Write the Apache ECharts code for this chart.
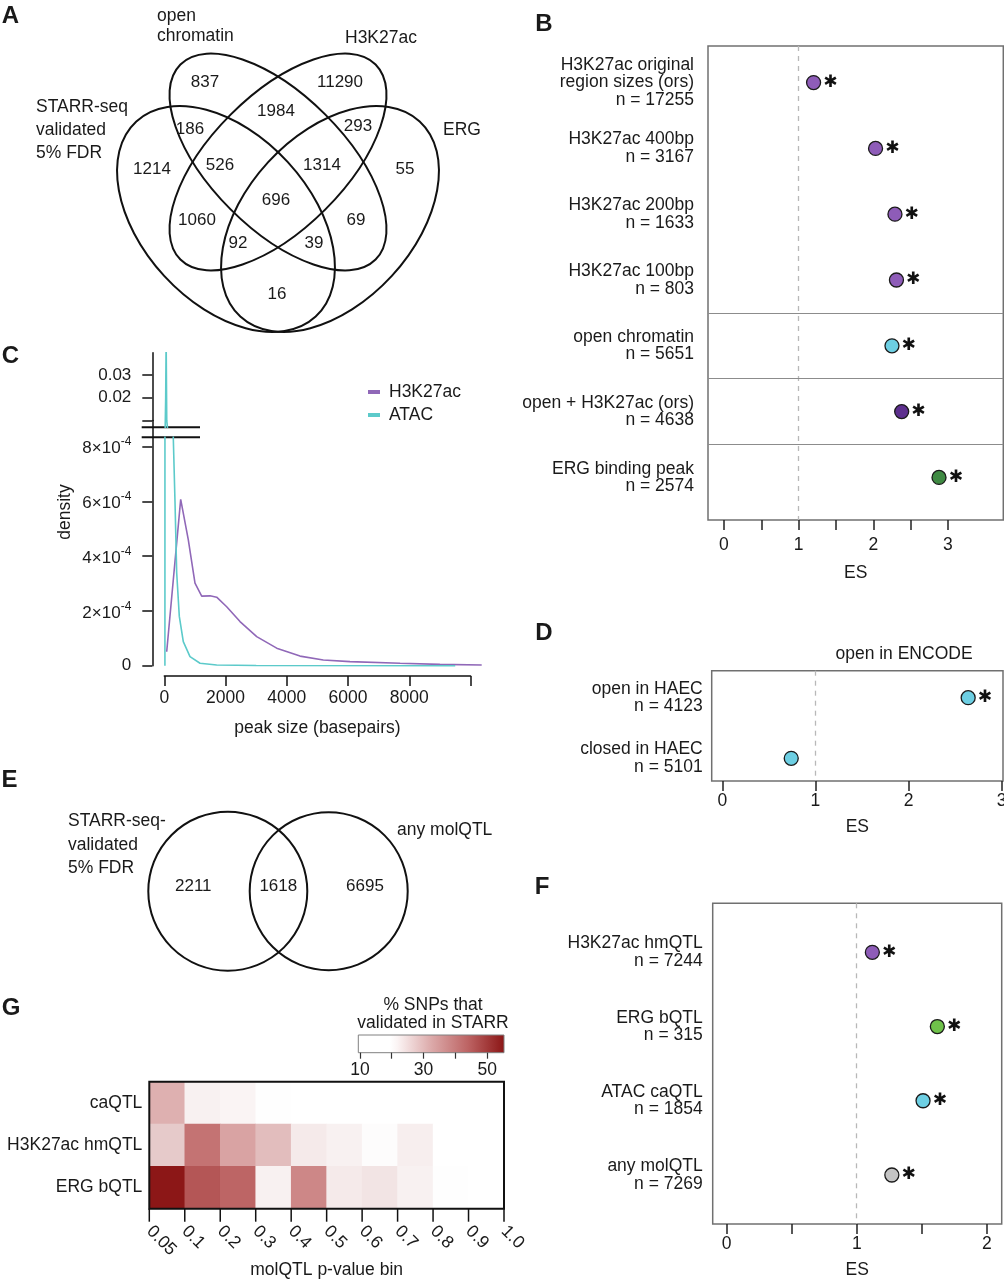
<!DOCTYPE html>
<html>
<head>
<meta charset="utf-8">
<script src="https://cdn.jsdelivr.net/npm/echarts@6/dist/echarts.min.js"></script>
<style>
  body { margin: 0; background: #fff; }
  #main { width: 1004px; height: 1280px; }
</style>
</head>
<body>
<div id="main"></div>
<script>
// ---- data ----
// A: four-set venn
var vennSets = ['STARR-seq\nvalidated\n5% FDR', 'open\nchromatin', 'H3K27ac', 'ERG'];
var vennCounts = [837, 11290, 186, 1984, 293, 1214, 526, 1314, 55, 696, 1060, 69, 92, 39, 16];

// B: enrichment of STARR-validated regions
var bLabels = ['H3K27ac original\nregion sizes (ors)\nn = 17255', 'H3K27ac 400bp\nn = 3167',
  'H3K27ac 200bp\nn = 1633', 'H3K27ac 100bp\nn = 803', 'open chromatin\nn = 5651',
  'open + H3K27ac (ors)\nn = 4638', 'ERG binding peak\nn = 2574'];
var bES = [1.20, 2.03, 2.29, 2.31, 2.25, 2.38, 2.88];
var bSig = [true, true, true, true, true, true, true];

// C: peak size density (bp, density)
var h3k27acDensity = [[78, 5.1e-5], [535, 6.07e-4], [784, 4.59e-4], [1002, 3.01e-4], [1221, 2.54e-4],
  [1492, 2.55e-4], [1710, 2.5e-4], [2037, 2.15e-4], [2472, 1.61e-4], [3017, 1.06e-4], [3670, 6.4e-5],
  [4431, 3.5e-5], [5192, 2.1e-5], [6064, 1.5e-5], [7700, 9e-6], [9000, 5e-6], [10364, 2.6e-6]];
var atacDensity = [[20, 0], [45, 0.02], [60, 0.045], [80, 0.01], [130, 0.003], [200, 0.0015],
  [294, 8.3e-4], [349, 6.0e-4], [404, 3.4e-4], [490, 1.8e-4], [620, 8.8e-5], [839, 3.3e-5],
  [1166, 9e-6], [1710, 2.6e-6], [3000, 5e-7], [9500, 0]];

// D: open in ENCODE
var dLabels = ['open in HAEC\nn = 4123', 'closed in HAEC\nn = 5101'];
var dES = [2.64, 0.74];
var dSig = [true, false];

// E: two-set venn
var eSets = ['STARR-seq-\nvalidated\n5% FDR', 'any molQTL'];
var eCounts = [2211, 1618, 6695];

// F: molQTL enrichment
var fLabels = ['H3K27ac hmQTL\nn = 7244', 'ERG bQTL\nn = 315', 'ATAC caQTL\nn = 1854', 'any molQTL\nn = 7269'];
var fES = [1.12, 1.62, 1.51, 1.27];
var fSig = [true, true, true, true];

// G: % SNPs validated in STARR per p-value bin
var gRows = ['caQTL', 'H3K27ac hmQTL', 'ERG bQTL'];
var gBins = ['0.05', '0.1', '0.2', '0.3', '0.4', '0.5', '0.6', '0.7', '0.8', '0.9', '1.0'];
var gCaQTL = [34, 23, 22, 16, 15, 15, 14, 14, 13, 13];
var gHmQTL = [30, 43, 36, 32, 25, 23, 19, 24, 15, 14];
var gBQTL = [55, 47, 45, 23, 40, 25, 26, 23, 16, 15];

// ---- styling / layout ----
var FONT = 'Liberation Sans, Arial, Helvetica, sans-serif';
var TXT = '#1a1a1a';
var PURPLE = '#8e5cb8', CYAN = '#6dcfe3', DPURPLE = '#5d2f8e', DGREEN = '#3f8a43',
    LGREEN = '#6fc24a', GREY = '#c4c4c4';
var bColors = [PURPLE, PURPLE, PURPLE, PURPLE, CYAN, DPURPLE, DGREEN];
var dColors = [CYAN, CYAN];
var fColors = [PURPLE, LGREEN, CYAN, GREY];
var heatColors = ['#ffffff', '#ffffff', '#fbf4f4', '#dcaaaa', '#bd6464', '#8b1515'];
var heatStops = [0, 0.22, 0.27, 0.5, 0.75, 1];
var heatMin = 9.5, heatMax = 55.3;

var grid = [], xAxis = [], yAxis = [], series = [], graphic = [];

function txt(t, x, y, opt) {
  opt = opt || {};
  graphic.push({type: 'text', x: x, y: y, rotation: opt.rot || 0, silent: true,
    style: {text: t, fill: TXT, fontFamily: FONT, fontSize: opt.size || 17.5,
      fontWeight: opt.weight || 'normal', align: opt.align || 'center',
      verticalAlign: 'middle', lineHeight: opt.lh || 20}});
}

function addForest(o) {
  var gi = grid.length;
  grid.push({left: o.box[0], top: o.box[1], width: o.box[2], height: o.box[3], show: true,
    borderColor: '#707070', borderWidth: 1.5, containLabel: false, outerBoundsMode: 'none'});
  xAxis.push({gridIndex: gi, type: 'value', position: 'bottom', min: o.xMin, max: o.xMax,
    splitLine: {show: false}, axisLine: {show: false, onZero: false},
    axisTick: {show: true, inside: false, length: 10, customValues: o.ticks, lineStyle: {color: '#222', width: 1.5}},
    axisLabel: {customValues: o.tickLabels, margin: o.tickGap, fontSize: 17.5, fontFamily: FONT, color: TXT},
    name: 'ES', nameLocation: 'middle', nameGap: o.nameGap, nameMoveOverlap: false,
    nameTextStyle: {fontSize: 17.5, fontFamily: FONT, color: TXT}});
  yAxis.push({gridIndex: gi, type: 'value', position: 'left', inverse: true, min: o.yMin, max: o.yMax,
    splitLine: {show: false}, axisLine: {show: false, onZero: false}, axisTick: {show: false},
    axisLabel: {customValues: o.labels.map(function (_, i) { return i; }),
      formatter: function (v) { return o.labels[Math.round(v)]; },
      margin: o.labelGap, fontSize: 17.5, lineHeight: 17.5, fontFamily: FONT, color: TXT, align: 'right'}});
  var lines = [{xAxis: 1, lineStyle: {type: [5, 5], color: '#b8b8b8', width: 1.3}}];
  (o.separators || []).forEach(function (s) {
    lines.push({yAxis: s, lineStyle: {type: 'solid', color: '#8c8c8c', width: 1.2}});
  });
  series.push({type: 'scatter', xAxisIndex: gi, yAxisIndex: gi, symbolSize: 14, z: 5,
    itemStyle: {borderColor: '#1a1a1a', borderWidth: 1.3, opacity: 1},
    label: {show: false, position: 'right', distance: 2, formatter: '\u2731', fontSize: 17,
      fontFamily: 'DejaVu Sans', color: '#111'},
    data: o.es.map(function (v, i) {
      return {value: [v, i], itemStyle: {color: o.colors[i]}, label: {show: o.sig[i]}};
    }),
    markLine: {silent: true, symbol: 'none', animation: false, label: {show: false}, data: lines}});
}

// B
addForest({box: [708, 46, 295.3, 474], xMin: -0.214, xMax: 3.741,
  ticks: [0, 0.5, 1, 1.5, 2, 2.5, 3], tickLabels: [0, 1, 2, 3], tickGap: 16, nameGap: 44,
  yMin: -0.556, yMax: 6.647, labels: bLabels, es: bES, sig: bSig, colors: bColors,
  separators: [3.5, 4.5, 5.5], labelGap: 14});
// D
addForest({box: [711.7, 670.7, 291.3, 110.3], xMin: -0.114, xMax: 3.014,
  ticks: [0, 1, 2, 3], tickLabels: [0, 1, 2, 3], tickGap: 11, nameGap: 37,
  yMin: -0.446, yMax: 1.375, labels: dLabels, es: dES, sig: dSig, colors: dColors, labelGap: 9});
// F
addForest({box: [712.7, 903.3, 289, 320.7], xMin: -0.108, xMax: 2.115,
  ticks: [0, 0.5, 1, 1.5, 2], tickLabels: [0, 1, 2], tickGap: 11, nameGap: 37,
  yMin: -0.66, yMax: 3.66, labels: fLabels, es: fES, sig: fSig, colors: fColors, labelGap: 10});

// C: broken density axis
var axisLineStyle = {color: '#111', width: 1.5};
function hiddenAxis(gi, min, max) { return {gridIndex: gi, type: 'value', show: false, min: min, max: max}; }
// lower data grid (3)
grid.push({left: 152.3, top: 437.3, width: 330.5, height: 238.7, outerBoundsMode: 'none'});
xAxis.push(hiddenAxis(3, -392, 10400));
yAxis.push(hiddenAxis(3, -3.759e-5, 8.336e-4));
// upper data grid (4)
grid.push({left: 152.3, top: 352.7, width: 330.5, height: 74.6, outerBoundsMode: 'none'});
xAxis.push(hiddenAxis(4, -392, 10400));
yAxis.push(hiddenAxis(4, 0.00696, 0.03982));
// x axis grid (5)
grid.push({left: 164.3, top: 640, width: 306.25, height: 36, outerBoundsMode: 'none'});
xAxis.push({gridIndex: 5, type: 'value', min: 0, max: 10000, splitLine: {show: false},
  axisLine: {show: true, onZero: false, lineStyle: axisLineStyle},
  axisTick: {length: 10, customValues: [0, 2000, 4000, 6000, 8000, 10000], lineStyle: axisLineStyle},
  axisLabel: {customValues: [0, 2000, 4000, 6000, 8000], margin: 13, fontSize: 17.5, fontFamily: FONT, color: TXT,
    formatter: function (v) { return String(v); }},
  name: 'peak size (basepairs)', nameLocation: 'middle', nameGap: 43, nameMoveOverlap: false,
  nameTextStyle: {fontSize: 17.5, fontFamily: FONT, color: TXT}});
yAxis.push(hiddenAxis(5, 0, 1));
// lower y axis (6)
var sciRich = {a: {fontSize: 17, fontFamily: FONT, color: TXT, verticalAlign: 'bottom'},
  s: {fontSize: 12, fontFamily: FONT, color: TXT, verticalAlign: 'bottom', padding: [0, 0, 9, 0]}};
grid.push({left: 152.3, top: 420.4, width: 10, height: 245.3, outerBoundsMode: 'none'});
xAxis.push(hiddenAxis(6, 0, 1));
yAxis.push({gridIndex: 6, type: 'value', min: 0, max: 8.953e-4, splitLine: {show: false},
  axisLine: {show: true, onZero: false, lineStyle: axisLineStyle},
  axisTick: {length: 10, customValues: [0, 2e-4, 4e-4, 6e-4, 8e-4], lineStyle: axisLineStyle},
  axisLabel: {customValues: [0, 2e-4, 4e-4, 6e-4, 8e-4], margin: 21, rich: sciRich,
    formatter: function (v) { return v === 0 ? '{a|0}' : '{a|' + Math.round(v * 1e4) + '\u00d710}{s|-4}'; }}});
// upper y axis (7)
grid.push({left: 152.3, top: 352.7, width: 10, height: 67.7, outerBoundsMode: 'none'});
xAxis.push(hiddenAxis(7, 0, 1));
yAxis.push({gridIndex: 7, type: 'value', min: 0.01, max: 0.03982, splitLine: {show: false},
  axisLine: {show: true, onZero: false, lineStyle: axisLineStyle},
  axisTick: {length: 10, customValues: [0.01, 0.02, 0.03], lineStyle: axisLineStyle},
  axisLabel: {customValues: [0.02, 0.03], margin: 21, fontSize: 17, fontFamily: FONT, color: TXT,
    formatter: function (v) { return v.toFixed(2); }}});

function densityLine(name, data, color, gi) {
  series.push({type: 'line', name: name, xAxisIndex: gi, yAxisIndex: gi, data: data, showSymbol: false,
    symbol: 'none', clip: true, color: color, lineStyle: {color: color, width: 1.6}, z: 3});
}
densityLine('H3K27ac', h3k27acDensity, '#9068b8', 3);
densityLine('ATAC', atacDensity, '#5ccaca', 3);
densityLine('H3K27ac', h3k27acDensity, '#9068b8', 4);
densityLine('ATAC', atacDensity, '#5ccaca', 4);

// G heatmap (grid 8), colour bar (grid 9), bin-boundary scale (grid 10)
grid.push({left: 149.3, top: 1081.7, width: 354.7, height: 127, show: true, borderColor: '#111',
  borderWidth: 2, z: 10, outerBoundsMode: 'none'});
xAxis.push({gridIndex: 8, type: 'category', position: 'bottom', data: gBins.slice(0, 10), show: false});
yAxis.push({gridIndex: 8, type: 'category', data: gRows, inverse: true, axisLine: {show: false, onZero: false},
  axisTick: {show: false}, splitLine: {show: false},
  axisLabel: {margin: 7, fontSize: 17.5, fontFamily: FONT, color: TXT}});
var heatData = [];
[gCaQTL, gHmQTL, gBQTL].forEach(function (row, r) {
  row.forEach(function (v, c) { heatData.push([c, r, v]); });
});
var heatIndex = series.length;
series.push({type: 'heatmap', xAxisIndex: 8, yAxisIndex: 8, data: heatData, itemStyle: {borderWidth: 0}});

var barStops = heatColors.map(function (c, i) { return {offset: heatStops[i], color: c}; });
grid.push({left: 358.3, top: 1035, width: 145.7, height: 17.7, show: true, borderColor: '#808080',
  borderWidth: 1, backgroundColor: new echarts.graphic.LinearGradient(0, 0, 1, 0, barStops),
  outerBoundsMode: 'none'});
xAxis.push({gridIndex: 9, type: 'value', min: heatMin, max: heatMax, splitLine: {show: false},
  axisLine: {show: false, onZero: false},
  axisTick: {length: 6, customValues: [10, 20, 30, 40, 50], lineStyle: {color: '#333', width: 1.2}},
  axisLabel: {customValues: [10, 30, 50], margin: 8, fontSize: 17.5, fontFamily: FONT, color: TXT}});
yAxis.push(hiddenAxis(9, 0, 1));

var binIdx = gBins.map(function (_, i) { return i; });
grid.push({left: 149.3, top: 1180, width: 354.7, height: 28.7, outerBoundsMode: 'none'});
xAxis.push({gridIndex: 10, type: 'value', min: 0, max: gBins.length - 1,
  axisLine: {show: false, onZero: false}, splitLine: {show: false}, axisTick: {show: false},
  axisLabel: {customValues: binIdx, formatter: function (v) { return gBins[Math.round(v)]; },
    rotate: -45, margin: 20, fontSize: 17.5, fontFamily: FONT, color: TXT},
  name: 'molQTL p-value bin', nameLocation: 'middle', nameGap: 52, nameMoveOverlap: false,
  nameTextStyle: {fontSize: 17.5, fontFamily: FONT, color: TXT}});
yAxis.push(hiddenAxis(10, 0, 1));

// ---- venn diagrams (graphic) ----
var vennShapes = [
  {cx: 226, cy: 219, rx: 132.5, ry: 84, deg: 47.4},
  {cx: 278, cy: 162, rx: 138, ry: 67, deg: 45},
  {cx: 278, cy: 162, rx: 138, ry: 67, deg: -45},
  {cx: 330, cy: 219, rx: 132.5, ry: 84, deg: -47.4}];
vennShapes.forEach(function (s) {
  graphic.push({type: 'ellipse', x: s.cx, y: s.cy, rotation: -s.deg * Math.PI / 180, silent: true,
    shape: {cx: 0, cy: 0, rx: s.rx, ry: s.ry}, style: {fill: 'transparent', stroke: '#111', lineWidth: 2}});
});
var vennPos = [[205, 82], [340, 82], [190, 129], [276, 111], [358, 126], [152, 169], [220, 165],
  [322, 165], [405, 169], [276, 200], [197, 220], [356, 220], [238, 243], [314, 243], [277, 294]];
vennCounts.forEach(function (n, i) { txt(String(n), vennPos[i][0], vennPos[i][1], {size: 17}); });
txt(vennSets[0], 36, 130, {align: 'left', lh: 23});
txt(vennSets[1], 157, 26, {align: 'left', lh: 20.5});
txt(vennSets[2], 345, 38, {align: 'left'});
txt(vennSets[3], 443, 130, {align: 'left'});

[[227.8, 891.2, 79.5], [328.7, 891.2, 79]].forEach(function (c) {
  graphic.push({type: 'circle', silent: true, shape: {cx: c[0], cy: c[1], r: c[2]},
    style: {fill: 'transparent', stroke: '#111', lineWidth: 2}});
});
var ePos = [[193.3, 886.7], [278.3, 886.7], [365, 886.7]];
eCounts.forEach(function (n, i) { txt(String(n), ePos[i][0], ePos[i][1], {size: 17}); });
txt(eSets[0], 68, 845, {align: 'left', lh: 23.5});
txt(eSets[1], 397, 830, {align: 'left'});

// other titles
txt('density', 65, 512, {rot: Math.PI / 2});
txt('open in ENCODE', 904, 654);
txt('% SNPs that\nvalidated in STARR', 433, 1014, {lh: 18});
// axis break marks
[427.3, 437.3].forEach(function (y) {
  graphic.push({type: 'line', silent: true, shape: {x1: 141.7, y1: y, x2: 200, y2: y},
    style: {stroke: '#111', lineWidth: 2}});
});
// panel letters
[['A', 10.5, 16], ['B', 544, 24], ['C', 10.5, 356], ['D', 544, 633], ['E', 9.5, 780],
 ['F', 542, 887], ['G', 11, 1008]].forEach(function (p) {
  txt(p[0], p[1], p[2], {size: 24, weight: 'bold'});
});

var chart = echarts.init(document.getElementById('main'), null, {renderer: 'canvas'});
chart.setOption({
  animation: false,
  backgroundColor: '#fff',
  textStyle: {fontFamily: FONT},
  legend: {data: ['H3K27ac', 'ATAC'], left: 363, top: 378, orient: 'vertical', icon: 'rect',
    itemWidth: 12, itemHeight: 4, itemGap: 5, selectedMode: false,
    textStyle: {fontSize: 17.5, fontFamily: FONT, color: TXT, lineHeight: 18, padding: [0, 0, 0, 4]}},
  visualMap: {type: 'continuous', show: false, min: heatMin, max: heatMax, dimension: 2,
    seriesIndex: heatIndex, inRange: {color: ['#ffffff', '#ffffff', '#fdfbfb', '#f6ecec', '#e6cbcb',
      '#dcaaaa', '#cd8787', '#bd6464', '#a43d3d', '#8b1515']}},
  grid: grid,
  xAxis: xAxis,
  yAxis: yAxis,
  series: series,
  graphic: graphic
});

// bin-boundary tick marks below the heatmap, placed through the boundary scale of grid 10
var binTicks = binIdx.map(function (i) {
  var p = chart.convertToPixel({gridIndex: 10}, [i, 0]);
  return {type: 'line', silent: true, z: 20, shape: {x1: p[0], y1: p[1], x2: p[0], y2: p[1] + 13},
    style: {stroke: '#111', lineWidth: 1.5}};
});
chart.setOption({graphic: graphic.concat(binTicks)});
</script>
</body>
</html>
